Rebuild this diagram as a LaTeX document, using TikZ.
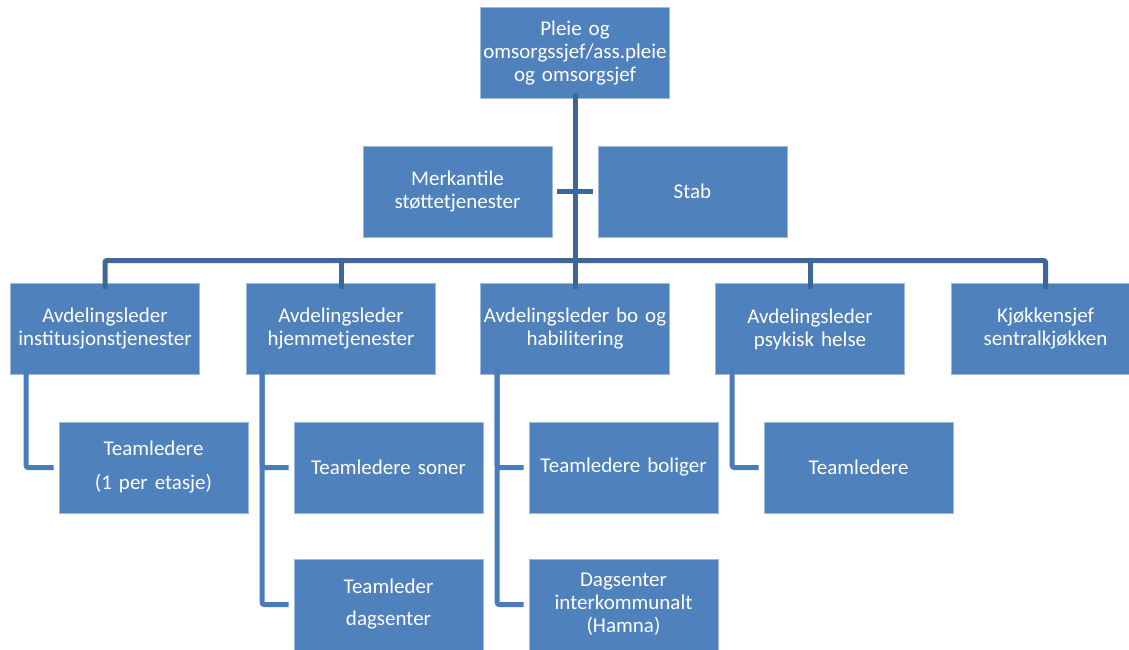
\documentclass[tikz,border=0pt]{standalone}
\usepackage{fontspec}
\setmainfont{Carlito}
\definecolor{boxblue}{HTML}{4F81BD}
\definecolor{trunkblue}{HTML}{3E6697}
\definecolor{subblue}{HTML}{4A7CB9}
\begin{document}
\begin{tikzpicture}[x=1pt,y=-1pt,
  orgbox/.style={rectangle, fill=boxblue, draw=boxblue!55!white, line width=0.6pt,
    minimum width=189pt, minimum height=91pt, inner sep=0pt,
    text=white, align=center, text width=185pt,
    font=\fontsize{21}{23}\selectfont},
  trunk/.style={draw=trunkblue, line width=5pt, rounded corners=2pt},
  sub/.style={draw=subblue, line width=5pt, rounded corners=2pt}]
\useasboundingbox (0,0) rectangle (1129,650);

% top level
\node[orgbox] (top) at (575,53) {Pleie og\\omsorgssjef/ass.pleie\\og omsorgsjef};

% staff functions
\node[orgbox] (merk) at (457.5,191.5) {Merkantile\\støttetjenester};
\node[orgbox] (stab) at (692.5,191.5) {Stab};

% department heads
\node[orgbox] (a1) at (105,329) {Avdelingsleder\\institusjonstjenester};
\node[orgbox] (a2) at (341,329) {Avdelingsleder\\hjemmetjenester};
\node[orgbox] (a3) at (575,329) {Avdelingsleder bo og\\habilitering};
\node[orgbox] (a4) at (810,329) {Avdelingsleder\\psykisk helse};
\node[orgbox] (a5) at (1045.5,329) {Kjøkkensjef\\sentralkjøkken};

% team leaders
\node[orgbox] (b1) at (153.5,467.5) {Teamledere\\[11pt](1 per etasje)};
\node[orgbox] (b2) at (388.5,467.5) {Teamledere soner};
\node[orgbox] (c2) at (388.5,604.5) {Teamleder\\[9pt]dagsenter};
\node[orgbox] (b3) at (623.5,467.5) {Teamledere boliger};
\node[orgbox] (c3) at (623.5,604.5) {Dagsenter\\interkommunalt\\(Hamna)};
\node[orgbox] (b4) at (858.5,467.5) {Teamledere};

% main trunk and bus
\coordinate (bus) at (0,260.5);
\draw[trunk] ([yshift=6pt]top.south) -- ([yshift=-6pt]a3.north);
\draw[trunk] ([xshift=5pt]merk.east) -- ([xshift=-5pt]stab.west);
\draw[trunk] ([yshift=-6pt]a1.north) |- (a5.north |- bus) -- ([yshift=-6pt]a5.north);
\draw[trunk] (a2.north |- bus) -- ([yshift=-6pt]a2.north);
\draw[trunk] (a4.north |- bus) -- ([yshift=-6pt]a4.north);

% branches to team leaders
\draw[sub] ([xshift=16pt,yshift=6pt]a1.south west) |- ([xshift=-5pt]b1.west);
\draw[sub] ([xshift=16pt,yshift=6pt]a2.south west) |- ([xshift=-5pt]c2.west);
\draw[sub] ([xshift=16pt,yshift=6pt]a2.south west) |- ([xshift=-5pt]b2.west);
\draw[sub] ([xshift=17pt,yshift=6pt]a3.south west) |- ([xshift=-5pt]c3.west);
\draw[sub] ([xshift=17pt,yshift=6pt]a3.south west) |- ([xshift=-5pt]b3.west);
\draw[sub] ([xshift=17pt,yshift=6pt]a4.south west) |- ([xshift=-5pt]b4.west);
\end{tikzpicture}
\end{document}
